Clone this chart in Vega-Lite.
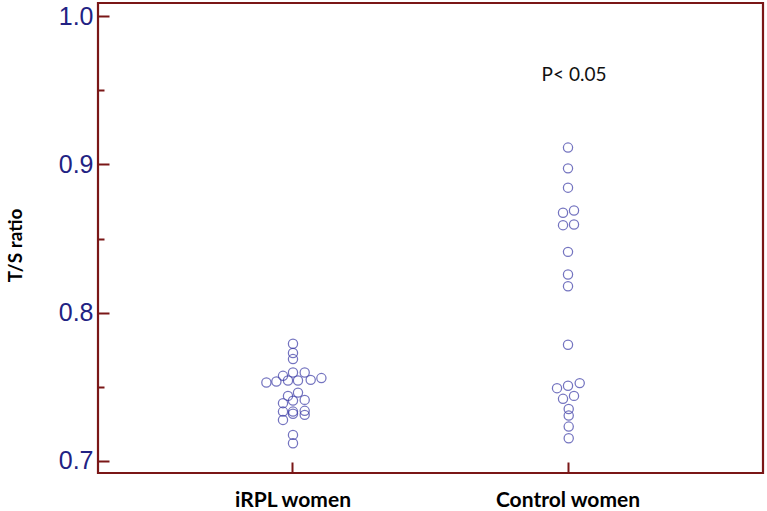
{
  "$schema": "https://vega.github.io/schema/vega-lite/v6.json",
  "width": 665,
  "height": 470,
  "autosize": {"type": "none"},
  "padding": {"left": 98, "top": 3, "right": 4, "bottom": 38},
  "background": "white",
  "config": {
    "view": {"stroke": "#7a1717", "strokeWidth": 2.2},
    "axis": {"grid": false}
  },
  "resolve": {"axis": {"y": "independent"}},
  "layer": [
    {
      "data": {
        "values": [
          {"group": "iRPL women", "dx": 0, "ts": 0.779},
          {"group": "iRPL women", "dx": 0, "ts": 0.7728},
          {"group": "iRPL women", "dx": 0, "ts": 0.7687},
          {"group": "iRPL women", "dx": 0, "ts": 0.7597},
          {"group": "iRPL women", "dx": -10, "ts": 0.7574},
          {"group": "iRPL women", "dx": 11.7, "ts": 0.7597},
          {"group": "iRPL women", "dx": -26.6, "ts": 0.7529},
          {"group": "iRPL women", "dx": -16.6, "ts": 0.7536},
          {"group": "iRPL women", "dx": -5, "ts": 0.7543},
          {"group": "iRPL women", "dx": 5, "ts": 0.7543},
          {"group": "iRPL women", "dx": 17.7, "ts": 0.7547},
          {"group": "iRPL women", "dx": 28.4, "ts": 0.7559},
          {"group": "iRPL women", "dx": 5, "ts": 0.7461},
          {"group": "iRPL women", "dx": -5, "ts": 0.7439},
          {"group": "iRPL women", "dx": 0, "ts": 0.7407},
          {"group": "iRPL women", "dx": 11.7, "ts": 0.7412},
          {"group": "iRPL women", "dx": -10, "ts": 0.739},
          {"group": "iRPL women", "dx": -10, "ts": 0.7333},
          {"group": "iRPL women", "dx": 0, "ts": 0.7333},
          {"group": "iRPL women", "dx": 11.7, "ts": 0.7338},
          {"group": "iRPL women", "dx": 0, "ts": 0.7318},
          {"group": "iRPL women", "dx": 11.7, "ts": 0.7311},
          {"group": "iRPL women", "dx": -10, "ts": 0.7277},
          {"group": "iRPL women", "dx": 0, "ts": 0.7176},
          {"group": "iRPL women", "dx": 0, "ts": 0.712},
          {"group": "Control women", "dx": 0, "ts": 0.9113},
          {"group": "Control women", "dx": 0, "ts": 0.8973},
          {"group": "Control women", "dx": 0, "ts": 0.8843},
          {"group": "Control women", "dx": -5, "ts": 0.8674},
          {"group": "Control women", "dx": 6, "ts": 0.8689},
          {"group": "Control women", "dx": -5, "ts": 0.859},
          {"group": "Control women", "dx": 6, "ts": 0.8595},
          {"group": "Control women", "dx": 0, "ts": 0.841},
          {"group": "Control women", "dx": 0, "ts": 0.8257},
          {"group": "Control women", "dx": 0, "ts": 0.8178},
          {"group": "Control women", "dx": 0, "ts": 0.7784},
          {"group": "Control women", "dx": -11, "ts": 0.7491},
          {"group": "Control women", "dx": 0, "ts": 0.7507},
          {"group": "Control women", "dx": 11.7, "ts": 0.7525},
          {"group": "Control women", "dx": -5, "ts": 0.7419},
          {"group": "Control women", "dx": 6, "ts": 0.7439},
          {"group": "Control women", "dx": 0.7, "ts": 0.7351},
          {"group": "Control women", "dx": 0.7, "ts": 0.7306},
          {"group": "Control women", "dx": 0.7, "ts": 0.7232},
          {"group": "Control women", "dx": 0.7, "ts": 0.7153}
        ]
      },
      "mark": {"type": "point", "shape": "circle", "filled": false, "size": 85, "stroke": "#3a3aa6", "strokeWidth": 1.25},
      "encoding": {
        "x": {
          "field": "group", "type": "nominal",
          "sort": ["iRPL women", "Control women"],
          "scale": {"type": "band", "paddingInner": 0, "paddingOuter": 0.209},
          "axis": {
            "title": null, "labelAngle": 0, "domain": false,
            "tickSize": -11, "tickColor": "#7a1717", "tickWidth": 2,
            "labelFont": "Lato", "labelFontWeight": "bold", "labelFontSize": 21, "labelColor": "#000000",
            "labelPadding": 27,
            "encode": {"labels": {"update": {"dx": {"signal": "datum.value === 'iRPL women' ? 13 : 3"}}}}
          }
        },
        "xOffset": {"field": "dx", "type": "quantitative", "scale": {"domain": [-137.5, 137.5]}},
        "y": {
          "field": "ts", "type": "quantitative",
          "scale": {"domain": [0.6919, 1.0088], "nice": false, "zero": false},
          "axis": {
            "values": [0.7, 0.8, 0.9, 1.0], "format": ".1f", "domain": false,
            "tickSize": -11, "tickColor": "#7a1717", "tickWidth": 2,
            "labelFont": "Liberation Sans", "labelFontSize": 25, "labelColor": "#222283",
            "labelPadding": 16,
            "title": "T/S ratio", "titleFont": "Lato", "titleFontWeight": "bold", "titleFontSize": 19,
            "titleColor": "#000000", "titleX": -73, "titleY": 242
          }
        }
      }
    },
    {
      "data": {"values": [{"group": "Control women", "dx": 6, "ts": 0.9605, "label": "P< 0.05"}]},
      "mark": {"type": "text", "font": "Lato", "fontSize": 19, "color": "#111111"},
      "encoding": {
        "x": {"field": "group", "type": "nominal", "sort": ["iRPL women", "Control women"]},
        "xOffset": {"field": "dx", "type": "quantitative"},
        "y": {"field": "ts", "type": "quantitative", "axis": null},
        "text": {"field": "label"}
      }
    },
    {
      "data": {"values": [{"ts": 0.75}, {"ts": 0.85}, {"ts": 0.95}]},
      "mark": {"type": "point", "opacity": 0},
      "encoding": {
        "y": {
          "field": "ts", "type": "quantitative",
          "axis": {
            "orient": "left", "values": [0.75, 0.85, 0.95], "domain": false, "labels": false, "title": null,
            "tickSize": -6, "tickColor": "#7a1717", "tickWidth": 2
          }
        }
      }
    }
  ]
}
